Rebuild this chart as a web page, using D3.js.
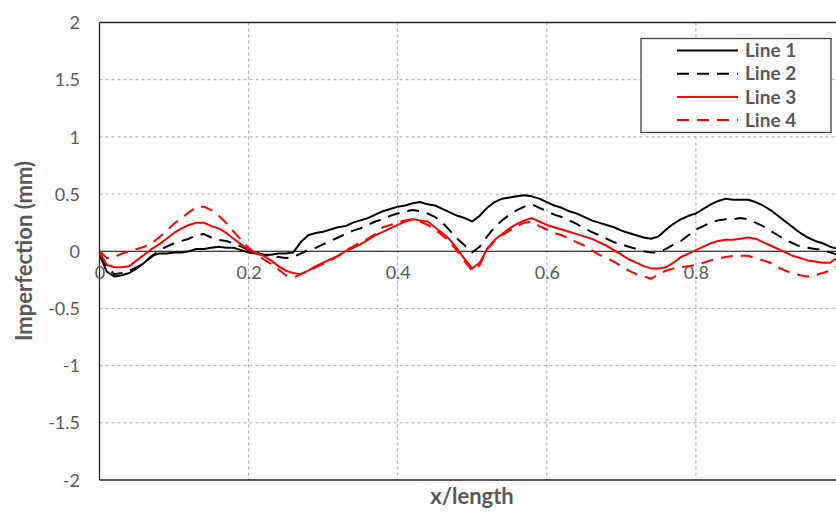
<!DOCTYPE html>
<html>
<head>
<meta charset="utf-8">
<script src="https://cdn.jsdelivr.net/npm/d3@7/dist/d3.min.js"></script>
<style>
html,body{margin:0;padding:0;background:#fff;}
svg{display:block;}
text{font-family:Lato,"Open Sans",sans-serif;}
</style>
</head>
<body>
<svg id="chart" width="836" height="512"></svg>
<script>
const xPos = [0,0.01,0.02,0.03,0.04,0.05,0.06,0.07,0.08,0.09,0.10,0.11,0.12,0.13,0.14,0.15,0.16,0.17,0.18,0.19,
0.20,0.21,0.22,0.23,0.24,0.25,0.26,0.27,0.28,0.29,0.30,0.31,0.32,0.33,0.34,0.35,0.36,0.37,0.38,0.39,
0.40,0.41,0.42,0.43,0.44,0.45,0.46,0.47,0.48,0.49,0.50,0.51,0.52,0.53,0.54,0.55,0.56,0.57,0.58,0.59,
0.60,0.61,0.62,0.63,0.64,0.65,0.66,0.67,0.68,0.69,0.70,0.71,0.72,0.73,0.74,0.75,0.76,0.77,0.78,0.79,
0.80,0.81,0.82,0.83,0.84,0.85,0.86,0.87,0.88,0.89,0.90,0.91,0.92,0.93,0.94,0.95,0.96,0.97,0.98,0.99,1.00];

const line1 = [-0.03,-0.18,-0.22,-0.21,-0.19,-0.15,-0.10,-0.04,-0.02,-0.02,-0.01,-0.01,0.00,0.02,0.02,0.03,0.04,0.03,0.03,0.01,
-0.01,-0.02,-0.03,-0.03,-0.02,-0.02,-0.01,0.08,0.14,0.16,0.17,0.19,0.21,0.22,0.25,0.27,0.29,0.32,0.35,0.37,
0.39,0.40,0.42,0.43,0.41,0.40,0.37,0.34,0.31,0.29,0.26,0.31,0.38,0.43,0.46,0.47,0.48,0.49,0.48,0.46,
0.43,0.40,0.38,0.35,0.33,0.30,0.27,0.25,0.23,0.21,0.18,0.16,0.14,0.12,0.11,0.13,0.19,0.24,0.28,0.31,
0.33,0.37,0.41,0.44,0.46,0.45,0.45,0.45,0.43,0.40,0.36,0.31,0.26,0.21,0.16,0.12,0.09,0.07,0.04,0.02,0.00];

const line2 = [-0.04,-0.14,-0.20,-0.19,-0.17,-0.14,-0.10,-0.05,0.01,0.04,0.07,0.09,0.11,0.14,0.15,0.12,0.10,0.09,0.07,0.04,
0.01,-0.01,-0.03,-0.04,-0.05,-0.06,-0.05,-0.02,0.01,0.03,0.06,0.09,0.12,0.15,0.18,0.20,0.23,0.26,0.28,0.31,
0.33,0.35,0.36,0.35,0.33,0.30,0.25,0.18,0.11,0.05,-0.01,0.04,0.13,0.21,0.27,0.32,0.36,0.39,0.41,0.38,
0.35,0.32,0.30,0.27,0.24,0.20,0.17,0.14,0.11,0.08,0.06,0.04,0.02,0.00,-0.01,-0.01,0.02,0.06,0.09,0.14,
0.19,0.22,0.25,0.27,0.28,0.28,0.29,0.28,0.25,0.22,0.18,0.14,0.10,0.07,0.04,0.03,0.02,0.01,-0.01,-0.03,-0.04];

const line3 = [-0.01,-0.12,-0.14,-0.14,-0.13,-0.08,-0.03,0.02,0.06,0.11,0.16,0.20,0.23,0.25,0.25,0.22,0.20,0.16,0.11,0.06,
0.015,-0.02,-0.04,-0.08,-0.13,-0.17,-0.19,-0.20,-0.17,-0.13,-0.10,-0.07,-0.04,0.00,0.03,0.06,0.10,0.14,0.17,0.20,
0.23,0.26,0.28,0.27,0.26,0.21,0.16,0.10,0.02,-0.07,-0.15,-0.10,0.02,0.10,0.15,0.20,0.24,0.27,0.29,0.26,
0.23,0.21,0.19,0.17,0.15,0.13,0.11,0.08,0.05,0.01,-0.03,-0.07,-0.10,-0.13,-0.15,-0.15,-0.14,-0.10,-0.05,-0.02,
0.01,0.04,0.07,0.09,0.10,0.10,0.11,0.12,0.11,0.08,0.05,0.02,-0.01,-0.04,-0.06,-0.08,-0.09,-0.10,-0.10,-0.05,-0.02];

const line4 = [0.00,-0.06,-0.05,-0.02,0.00,0.02,0.04,0.07,0.12,0.18,0.24,0.29,0.34,0.39,0.39,0.36,0.31,0.25,0.17,0.10,
0.03,-0.02,-0.07,-0.11,-0.16,-0.21,-0.23,-0.20,-0.17,-0.14,-0.11,-0.08,-0.04,0.01,0.04,0.08,0.11,0.15,0.21,0.23,
0.25,0.27,0.28,0.26,0.23,0.19,0.14,0.08,0.00,-0.09,-0.17,-0.12,0.02,0.09,0.14,0.18,0.22,0.25,0.26,0.22,
0.19,0.16,0.14,0.11,0.08,0.05,0.01,-0.03,-0.06,-0.09,-0.13,-0.17,-0.20,-0.22,-0.24,-0.20,-0.17,-0.15,-0.14,-0.13,
-0.12,-0.10,-0.08,-0.06,-0.05,-0.04,-0.04,-0.04,-0.06,-0.08,-0.10,-0.14,-0.17,-0.19,-0.21,-0.22,-0.21,-0.19,-0.17,-0.13,-0.10];

const seriesNames = ["Line 1","Line 2","Line 3","Line 4"];
const seriesColors = ["#000000","#000000","#ff0000","#ff0000"];
const seriesDash = [null,"12,8",null,"12,8"];
const xTicks = [0,0.2,0.4,0.6,0.8];
const xTickLabels = ["0","0.2","0.4","0.6","0.8"];
const yTicks = [-2,-1.5,-1,-0.5,0,0.5,1,1.5,2];
const yTickLabels = ["-2","-1.5","-1","-0.5","0","0.5","1","1.5","2"];

(function(){
const svg = d3.select("#chart");
const W = 836;
const pLeft = 99.5, pTop = 22.5, pBottom = 480;
const x = d3.scaleLinear().domain([0,1]).range([pLeft, 845]);
const y = d3.scaleLinear().domain([-2,2]).range([pBottom, pTop]);

svg.append("defs").append("clipPath").attr("id","clip")
  .append("rect").attr("x",pLeft).attr("y",pTop-2).attr("width",W-pLeft).attr("height",pBottom-pTop+4);

// grid
const grid = svg.append("g");
grid.selectAll("line.h").data(yTicks.filter(d=>d!==0 && d!==2 && d!==-2)).enter().append("line")
  .attr("x1",pLeft).attr("x2",W).attr("y1",d=>y(d)).attr("y2",d=>y(d))
  .attr("stroke","#a6a6a6").attr("stroke-width",1).attr("stroke-dasharray","3,3");
grid.selectAll("line.v").data(xTicks.filter(d=>d!==0)).enter().append("line")
  .attr("x1",d=>x(d)).attr("x2",d=>x(d)).attr("y1",pTop).attr("y2",pBottom)
  .attr("stroke","#a6a6a6").attr("stroke-width",1).attr("stroke-dasharray","3,3");

// frame
svg.append("line").attr("x1",pLeft).attr("x2",W).attr("y1",pTop).attr("y2",pTop).attr("stroke","#262626").attr("stroke-width",1.3);
svg.append("line").attr("x1",pLeft).attr("x2",W).attr("y1",pBottom).attr("y2",pBottom).attr("stroke","#262626").attr("stroke-width",1.3);
svg.append("line").attr("x1",pLeft).attr("x2",pLeft).attr("y1",pTop).attr("y2",pBottom).attr("stroke","#262626").attr("stroke-width",1.3);
// zero axis
svg.append("line").attr("x1",pLeft).attr("x2",W).attr("y1",y(0)).attr("y2",y(0)).attr("stroke","#000").attr("stroke-width",1);

// y tick labels via axis
const yAxis = d3.axisLeft(y).tickValues(yTicks).tickSize(0).tickPadding(0)
  .tickFormat((d,i)=>yTickLabels[i]);
const ya = svg.append("g").attr("transform",`translate(80,0)`).call(yAxis);
ya.select(".domain").remove();
ya.selectAll("text").attr("fill","#595959").style("font-size","18px").style("font-family","Lato,'Open Sans',sans-serif").attr("dy","0.34em");

// x tick labels via axis
const xAxis = d3.axisBottom(x).tickValues(xTicks).tickSize(0).tickPadding(0)
  .tickFormat((d,i)=>xTickLabels[i]);
const xa = svg.append("g").attr("transform",`translate(0,${y(0)+22})`).call(xAxis);
xa.select(".domain").remove();
xa.selectAll("text").attr("fill","#595959").style("font-size","18px").style("font-family","Lato,'Open Sans',sans-serif").attr("dy","0.34em");

// lines
const lg = svg.append("g").attr("clip-path","url(#clip)");
const allSeries = [line1,line2,line3,line4];
const lineGen = d3.line().x((d,i)=>x(xPos[i])).y(d=>y(d));
allSeries.forEach((s,k)=>{
  lg.append("path").datum(s).attr("d",lineGen)
    .attr("fill","none").attr("stroke",seriesColors[k]).attr("stroke-width",2)
    .attr("stroke-linejoin","round")
    .attr("stroke-dasharray",seriesDash[k]);
});

// axis titles
svg.append("text").attr("transform",`translate(32,251) rotate(-90)`).attr("text-anchor","middle")
  .attr("fill","#595959").style("font-size","22px").style("font-weight","bold").text("Imperfection (mm)");
svg.append("text").attr("x",472).attr("y",504).attr("text-anchor","middle")
  .attr("fill","#595959").style("font-size","22px").style("font-weight","bold").text("x/length");

// legend
const leg = svg.append("g");
leg.append("rect").attr("x",641).attr("y",38.5).attr("width",190).attr("height",94)
  .attr("fill","#fff").attr("stroke","#404040").attr("stroke-width",1.3);
seriesNames.forEach((n,k)=>{
  const cy = 50.5 + k*23.2;
  leg.append("line").attr("x1",677).attr("x2",738).attr("y1",cy).attr("y2",cy)
    .attr("stroke",seriesColors[k]).attr("stroke-width",2).attr("stroke-dasharray",seriesDash[k]);
  leg.append("text").attr("x",745).attr("y",cy).attr("dy","0.35em")
    .attr("fill","#595959").style("font-size","19px").style("font-weight","bold").text(n);
});
})();
</script>
</body>
</html>
